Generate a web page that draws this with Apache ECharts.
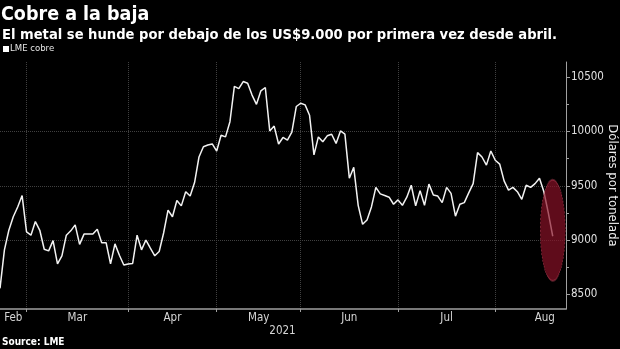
<!DOCTYPE html>
<html><head><meta charset="utf-8">
<script src="https://cdn.jsdelivr.net/npm/echarts@6/dist/echarts.min.js"></script>
<style>html,body{margin:0;padding:0;background:#000;}#c{width:620px;height:349px;}</style>
</head><body><div id="c"></div>
<script>
const FONT = '"DejaVu Sans Condensed","DejaVu Sans",sans-serif';

// ---- data ----
const year = 2021;
const monthLabels = ['Feb', 'Mar', 'Apr', 'May', 'Jun', 'Jul', 'Aug'];
const monthNumbers = [2, 3, 4, 5, 6, 7, 8];
// LME trading days shown on the axis (UK holidays excluded)
const tradingDays = [
  [19, 22, 23, 24, 25, 26],
  [1, 2, 3, 4, 5, 8, 9, 10, 11, 12, 15, 16, 17, 18, 19, 22, 23, 24, 25, 26, 29, 30, 31],
  [1, 6, 7, 8, 9, 12, 13, 14, 15, 16, 19, 20, 21, 22, 23, 26, 27, 28, 29, 30],
  [4, 5, 6, 7, 10, 11, 12, 13, 14, 17, 18, 19, 20, 21, 24, 25, 26, 27, 28],
  [1, 2, 3, 4, 7, 8, 9, 10, 11, 14, 15, 16, 17, 18, 21, 22, 23, 24, 25, 28, 29, 30],
  [1, 2, 5, 6, 7, 8, 9, 12, 13, 14, 15, 16, 19, 20, 21, 22, 23, 26, 27, 28, 29, 30],
  [2, 3, 4, 5, 6, 9, 10, 11, 12, 13, 16, 17, 18, 19, 20, 23, 24]
];
const seriesName = 'LME cobre';
const copper = [
  8555, 8910, 9090, 9215, 9305, 9410,
  9075, 9045, 9170, 9090, 8915, 8900, 8995, 8780, 8855, 9045, 9085, 9140, 8960, 9055, 9055, 9055, 9100, 8975, 8975, 8780, 8965, 8860, 8770,
  8780, 8785, 9045, 8910, 9000, 8925, 8855, 8895, 9065, 9275, 9215, 9365, 9315, 9445, 9405, 9530, 9765, 9860, 9875, 9885,
  9820, 9965, 9950, 10090, 10415, 10395, 10460, 10445, 10335, 10250, 10375, 10405, 10005, 10050, 9885, 9945, 9920, 9995, 10230,
  10260, 10245, 10150, 9785, 9950, 9905, 9960, 9975, 9890, 10005, 9975, 9570, 9670, 9320, 9145, 9185, 9305, 9485, 9425, 9410, 9395, 9330,
  9370, 9320, 9395, 9505, 9315, 9455, 9320, 9515, 9415, 9405, 9345, 9485, 9430, 9220, 9330, 9345, 9435, 9520, 9805, 9765, 9690, 9820,
  9735, 9700, 9545, 9460, 9485, 9445, 9375, 9505, 9485, 9520, 9570, 9445, 9250, 9035
];
const yTicks = [8500, 9000, 9500, 10000, 10500];
const annotationPoint = ['2021-08-19', 9090];

// ---- layout constants ----
const monthLabelPos = [3, 17.5, 39, 58.5, 79, 101, 123.2]; // centre of each month label, in trading-day units
const yearLabel = '2021';

const pad2 = n => (n < 10 ? '0' : '') + n;
const dates = [];
const monthStart = new Set();
tradingDays.forEach((days, m) => {
  days.forEach((d, k) => {
    if (k === 0 && dates.length > 0) monthStart.add(dates.length);
    dates.push(year + '-' + pad2(monthNumbers[m]) + '-' + pad2(d));
  });
});

const plotLeft = 0, plotRight = 566;
const step = (plotRight - plotLeft) / (dates.length - 1);
const labelAt = {};
monthLabelPos.forEach((p, m) => {
  const i = Math.floor(p);
  labelAt[i] = { text: monthLabels[m], pad: (p - i) * 2 * step, m };
});
const rich = {};
Object.keys(labelAt).forEach(i => {
  const L = labelAt[i];
  rich['m' + L.m] = { color: '#d6d6d6', fontSize: 11.5, fontFamily: FONT, lineHeight: 13, padding: [0, 0, 0, L.pad] };
});
rich.yr = { color: '#d6d6d6', fontSize: 11.5, fontFamily: FONT, lineHeight: 13, padding: [0, 0, 0, 52] };

const chart = echarts.init(document.getElementById('c'), null, { renderer: 'canvas' });
chart.setOption({
  backgroundColor: '#000',
  animation: false,
  title: [
    { text: 'Cobre a la baja', left: 1, top: 5, padding: 0,
      textStyle: { color: '#fff', fontSize: 19.5, fontWeight: 'bold', fontFamily: FONT } },
    { text: 'El metal se hunde por debajo de los US$9.000 por primera vez desde abril.', left: 2, top: 28, padding: 0,
      textStyle: { color: '#fff', fontSize: 14.6, fontWeight: 'bold', fontFamily: FONT } },
    { text: 'Source: LME', left: 2, top: 337, padding: 0,
      textStyle: { color: '#fff', fontSize: 10, fontWeight: 'bold', fontFamily: FONT } }
  ],
  legend: {
    data: [seriesName], left: 3, top: 44, padding: 0,
    icon: 'rect', itemWidth: 6, itemHeight: 6,
    textStyle: { color: '#e6e6e6', fontSize: 9.5, fontFamily: FONT, padding: [0, 0, 0, -4] }
  },
  grid: { left: plotLeft, right: 620 - plotRight, top: 62, bottom: 40, containLabel: false, outerBoundsMode: 'none' },
  xAxis: {
    type: 'category', data: dates, boundaryGap: false,
    axisLine: { lineStyle: { color: '#a0a0a0', width: 1.5 } },
    axisTick: { show: true, interval: i => monthStart.has(i), length: 3, lineStyle: { color: '#a0a0a0' } },
    splitLine: { show: true, interval: i => monthStart.has(i), lineStyle: { color: '#404040', width: 1, type: [1, 1] } },
    axisLabel: {
      interval: i => labelAt[i] !== undefined,
      margin: 3,
      formatter: (v, i) => {
        const L = labelAt[i];
        if (!L) return '';
        let s = '{m' + L.m + '|' + L.text + '}';
        if (L.text === 'May') s += '\n{yr|' + yearLabel + '}';
        return s;
      },
      rich
    }
  },
  yAxis: {
    type: 'value', position: 'right', min: 8365, max: 10640, splitNumber: 5,
    axisLine: { show: true, lineStyle: { color: '#a0a0a0' } },
    axisTick: { show: true, length: 4, customValues: yTicks, lineStyle: { color: '#a0a0a0' } },
    minorTick: { show: true, splitNumber: 2, length: 3, lineStyle: { color: '#a0a0a0' } },
    splitLine: { show: true, showMinLine: false, showMaxLine: false, lineStyle: { color: '#404040', width: 1, type: [1, 1] } },
    axisLabel: { customValues: yTicks, color: '#e0e0e0', fontSize: 11.5, margin: 5, fontFamily: FONT,
      formatter: v => String(v) },
    name: 'Dólares por tonelada', nameLocation: 'middle', nameRotate: -90, nameGap: 40, nameMoveOverlap: false,
    nameTextStyle: { color: '#f0f0f0', fontSize: 13, fontFamily: FONT }
  },
  series: [
    { type: 'line', name: seriesName, data: copper, symbol: 'none', showSymbol: false,
      lineStyle: { color: '#f2f2f2', width: 1.5 }, itemStyle: { color: '#ffffff' }, z: 2 },
    { type: 'scatter', name: 'annotation', data: [annotationPoint], symbol: 'circle', symbolSize: [25, 101],
      silent: true, z: 3,
      itemStyle: { color: 'rgba(138,18,40,0.86)', borderColor: 'rgba(215,80,105,0.9)', borderWidth: 1, borderType: 'dotted' } }
  ]
});
</script>
</body></html>
